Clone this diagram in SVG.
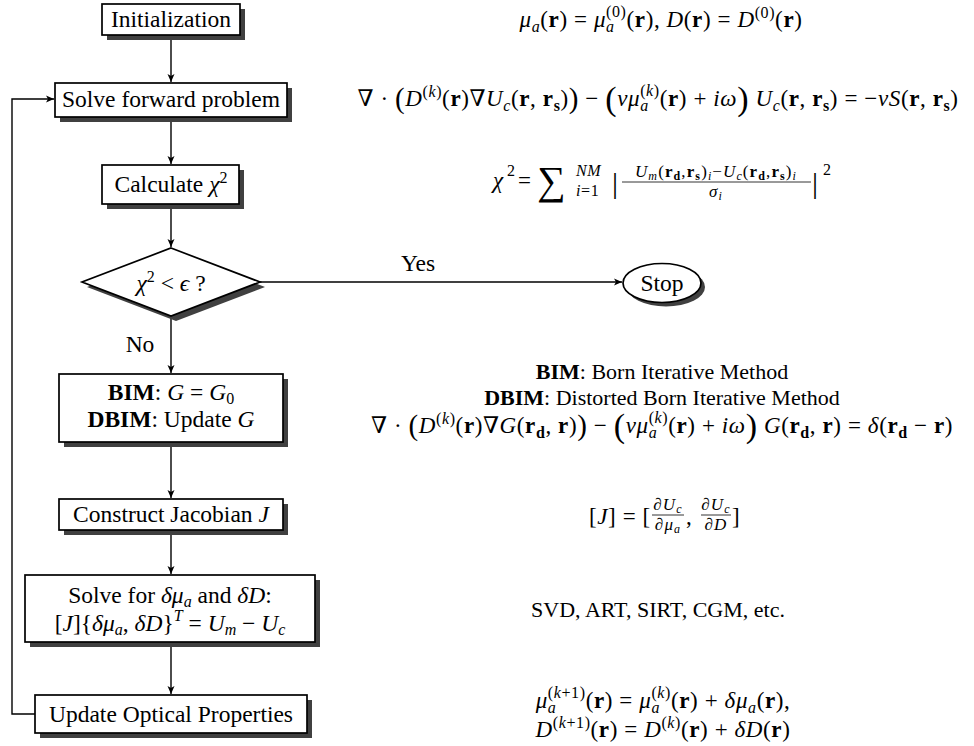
<svg xmlns="http://www.w3.org/2000/svg" width="974" height="746" viewBox="0 0 974 746">
<style>
.t{font-family:"Liberation Serif","DejaVu Serif",serif;font-size:23.5px;fill:#000}
.m{font-family:"Liberation Serif","DejaVu Serif",serif;font-size:22px;fill:#000}
.mm{font-family:"Liberation Serif","DejaVu Serif",serif;font-size:23px;letter-spacing:0.6px;fill:#000}
.i{font-style:italic}
.b{font-weight:bold}
.s{font-size:16px}
.f{font-family:"Liberation Serif","DejaVu Serif",serif;font-size:17px;letter-spacing:1.1px;fill:#000}
.ff{font-size:12px}
.p1{font-size:29px}
.p2{font-size:34px}
.box{fill:#fff;stroke:#000;stroke-width:1.7}
.sh{fill:#404040}
.c{fill:none;stroke:#000;stroke-width:1.4}
</style>
<defs>
<marker id="ah" markerWidth="10" markerHeight="8" refX="8" refY="4" orient="auto" markerUnits="userSpaceOnUse">
<path d="M0,0.5 L8,4 L0,7.5 L2,4 Z" fill="#000"/>
</marker>
</defs>
<rect width="974" height="746" fill="#fff"/>

<g id="connectors">
<line class="c" x1="171" y1="35" x2="171" y2="82" marker-end="url(#ah)"/>
<line class="c" x1="171" y1="117" x2="171" y2="164" marker-end="url(#ah)"/>
<line class="c" x1="171" y1="204" x2="171" y2="247" marker-end="url(#ah)"/>
<line class="c" x1="260" y1="282" x2="622" y2="282" marker-end="url(#ah)"/>
<line class="c" x1="171" y1="316" x2="171" y2="373" marker-end="url(#ah)"/>
<line class="c" x1="171" y1="442" x2="171" y2="498" marker-end="url(#ah)"/>
<line class="c" x1="171" y1="530" x2="171" y2="574" marker-end="url(#ah)"/>
<line class="c" x1="171" y1="642" x2="171" y2="694" marker-end="url(#ah)"/>
<polyline class="c" points="35,714 12,714 12,99 54,99" marker-end="url(#ah)"/>
<text class="t" x="418" y="271" text-anchor="middle">Yes</text>
<text class="t" x="140" y="352" text-anchor="middle">No</text>
</g>

<g id="n-init">
<rect class="sh" x="107" y="9" width="138" height="31"/>
<rect class="box" x="102" y="4" width="138" height="31"/>
<text class="t" x="171" y="27" text-anchor="middle">Initialization</text>
</g>

<g id="n-forward">
<rect class="sh" x="60" y="88" width="232" height="34"/>
<rect class="box" x="55" y="83" width="232" height="34"/>
<text class="t" x="171" y="107" text-anchor="middle">Solve forward problem</text>
</g>

<g id="n-chi">
<rect class="sh" x="107" y="170" width="137" height="39"/>
<rect class="box" x="102" y="165" width="137" height="39"/>
<text class="t" x="171" y="192" text-anchor="middle">Calculate <tspan class="i">χ</tspan><tspan class="s" dy="-9">2</tspan></text>
</g>

<g id="n-decision">
<polygon class="sh" points="176,253 265,287 176,321 87,287"/>
<polygon class="box" points="171,248 260,282 171,316 82,282"/>
<text class="t" x="171" y="291" text-anchor="middle"><tspan class="i">χ</tspan><tspan class="s" dy="-9">2</tspan><tspan dy="9"> &lt; </tspan><tspan class="i">ϵ</tspan> ?</text>
</g>

<g id="n-stop">
<ellipse class="sh" cx="666" cy="287" rx="39" ry="19.5"/>
<ellipse class="box" cx="662" cy="283" rx="39" ry="19.5"/>
<text class="t" x="662" y="291" text-anchor="middle">Stop</text>
</g>

<g id="n-bim">
<rect class="sh" x="64" y="379" width="224" height="68"/>
<rect class="box" x="59" y="374" width="224" height="68"/>
<text class="t" x="171" y="400" text-anchor="middle"><tspan class="b">BIM</tspan>: <tspan class="i">G</tspan> = <tspan class="i">G</tspan><tspan class="s" dy="4">0</tspan></text>
<text class="t" x="171" y="427" text-anchor="middle"><tspan class="b">DBIM</tspan>: Update <tspan class="i">G</tspan></text>
</g>

<g id="n-jacobian">
<rect class="sh" x="64" y="504" width="224" height="31"/>
<rect class="box" x="59" y="499" width="224" height="31"/>
<text class="t" x="171" y="522" text-anchor="middle">Construct Jacobian <tspan class="i">J</tspan></text>
</g>

<g id="n-solve">
<rect class="sh" x="30" y="580" width="290" height="67"/>
<rect class="box" x="25" y="575" width="290" height="67"/>
<text class="t" x="170" y="603" text-anchor="middle">Solve for <tspan class="i">δμ</tspan><tspan class="s i" dy="4">a</tspan><tspan dy="-4"> and </tspan><tspan class="i">δD</tspan>:</text>
<text class="t" x="170" y="631" text-anchor="middle">[<tspan class="i">J</tspan>]{<tspan class="i">δμ</tspan><tspan class="s i" dy="4">a</tspan><tspan dy="-4">, </tspan><tspan class="i">δD</tspan>}<tspan class="s i" dy="-10">T</tspan><tspan dy="10"> = </tspan><tspan class="i">U</tspan><tspan class="s i" dy="4">m</tspan><tspan dy="-4"> − </tspan><tspan class="i">U</tspan><tspan class="s i" dy="4">c</tspan></text>
</g>

<g id="n-update">
<rect class="sh" x="40" y="700" width="272" height="38"/>
<rect class="box" x="35" y="695" width="272" height="38"/>
<text class="t" x="171" y="722" text-anchor="middle">Update Optical Properties</text>
</g>

<g id="annotations">
<text class="mm" x="661" y="27" text-anchor="middle"><tspan class="i">μ</tspan><tspan class="s i" dy="5">a</tspan><tspan dy="-5">(</tspan><tspan class="b">r</tspan>) = <tspan class="i">μ</tspan><tspan class="s i" dy="5">a</tspan><tspan class="s" dx="-8.6" dy="-15">(0)</tspan><tspan dy="10">(</tspan><tspan class="b">r</tspan>), <tspan class="i">D</tspan>(<tspan class="b">r</tspan>) = <tspan class="i">D</tspan><tspan class="s" dy="-9">(0)</tspan><tspan dy="9">(</tspan><tspan class="b">r</tspan>)</text>

<text class="mm" x="658" y="106" text-anchor="middle">∇ · <tspan class="p1" dy="2">(</tspan><tspan class="i" dy="-2">D</tspan><tspan class="s" dy="-9">(<tspan class="i">k</tspan>)</tspan><tspan dy="9">(</tspan><tspan class="b">r</tspan>)∇<tspan class="i">U</tspan><tspan class="s i" dy="5">c</tspan><tspan dy="-5">(</tspan><tspan class="b">r</tspan>, <tspan class="b">r</tspan><tspan class="s b" dy="5">s</tspan><tspan dy="-5">)</tspan><tspan class="p1" dy="2">)</tspan><tspan dy="-2"> − </tspan><tspan class="p2" dy="4">(</tspan><tspan class="i" dy="-4">vμ</tspan><tspan class="s i" dy="5">a</tspan><tspan class="s" dx="-8.6" dy="-15">(<tspan class="i">k</tspan>)</tspan><tspan dy="10">(</tspan><tspan class="b">r</tspan>) + <tspan class="i">iω</tspan><tspan class="p2" dy="4">)</tspan><tspan dy="-4"> </tspan><tspan class="i">U</tspan><tspan class="s i" dy="5">c</tspan><tspan dy="-5">(</tspan><tspan class="b">r</tspan>, <tspan class="b">r</tspan><tspan class="s b" dy="5">s</tspan><tspan dy="-5">) = −</tspan><tspan class="i">vS</tspan>(<tspan class="b">r</tspan>, <tspan class="b">r</tspan><tspan class="s b" dy="5">s</tspan><tspan dy="-5">)</tspan></text>

<text class="mm i" x="493" y="188">χ</text>
<text class="mm s" x="507" y="176">2</text>
<text class="mm" x="518" y="188">=</text>
<text class="mm" x="537" y="194" style="font-size:40px">∑</text>
<text class="mm s i" x="576" y="176">NM</text>
<text class="mm s" x="576" y="196"><tspan class="i">i</tspan>=1</text>
<text class="mm" x="612" y="193" style="font-size:30px">|</text>
<text class="f" x="716" y="177" text-anchor="middle"><tspan class="i">U</tspan><tspan class="ff i" dy="3">m</tspan><tspan dy="-3">(</tspan><tspan class="b">r</tspan><tspan class="ff b" dy="3">d</tspan><tspan dy="-3">,</tspan><tspan class="b">r</tspan><tspan class="ff b" dy="3">s</tspan><tspan dy="-3">)</tspan><tspan class="ff i" dy="3">i</tspan><tspan dy="-3">−</tspan><tspan class="i">U</tspan><tspan class="ff i" dy="3">c</tspan><tspan dy="-3">(</tspan><tspan class="b">r</tspan><tspan class="ff b" dy="3">d</tspan><tspan dy="-3">,</tspan><tspan class="b">r</tspan><tspan class="ff b" dy="3">s</tspan><tspan dy="-3">)</tspan><tspan class="ff i" dy="3">i</tspan></text>
<line x1="622" y1="182" x2="811" y2="182" stroke="#000" stroke-width="0.8"/>
<text class="f" x="716" y="197" text-anchor="middle"><tspan class="i">σ</tspan><tspan class="ff i" dy="3">i</tspan></text>
<text class="mm" x="812" y="193" style="font-size:30px">|</text>
<text class="mm s" x="823" y="175">2</text>

<text class="m" x="662" y="379" text-anchor="middle"><tspan class="b">BIM</tspan>: Born Iterative Method</text>
<text class="m" x="662" y="405" text-anchor="middle"><tspan class="b">DBIM</tspan>: Distorted Born Iterative Method</text>
<text class="mm" x="662" y="433" text-anchor="middle">∇ · <tspan class="p1" dy="2">(</tspan><tspan class="i" dy="-2">D</tspan><tspan class="s" dy="-9">(<tspan class="i">k</tspan>)</tspan><tspan dy="9">(</tspan><tspan class="b">r</tspan>)∇<tspan class="i">G</tspan>(<tspan class="b">r</tspan><tspan class="s b" dy="5">d</tspan><tspan dy="-5">, </tspan><tspan class="b">r</tspan>)<tspan class="p1" dy="2">)</tspan><tspan dy="-2"> − </tspan><tspan class="p2" dy="4">(</tspan><tspan class="i" dy="-4">vμ</tspan><tspan class="s i" dy="5">a</tspan><tspan class="s" dx="-8.6" dy="-15">(<tspan class="i">k</tspan>)</tspan><tspan dy="10">(</tspan><tspan class="b">r</tspan>) + <tspan class="i">iω</tspan><tspan class="p2" dy="4">)</tspan><tspan dy="-4"> </tspan><tspan class="i">G</tspan>(<tspan class="b">r</tspan><tspan class="s b" dy="5">d</tspan><tspan dy="-5">, </tspan><tspan class="b">r</tspan>) = <tspan class="i">δ</tspan>(<tspan class="b">r</tspan><tspan class="s b" dy="5">d</tspan><tspan dy="-5"> − </tspan><tspan class="b">r</tspan>)</text>

<text class="mm" x="589" y="524">[<tspan class="i">J</tspan>] = [</text>
<text class="f" x="668" y="510" text-anchor="middle">∂<tspan class="i">U</tspan><tspan class="ff i" dy="3">c</tspan></text>
<line x1="652" y1="515" x2="684" y2="515" stroke="#000" stroke-width="0.8"/>
<text class="f" x="668" y="530" text-anchor="middle">∂<tspan class="i">μ</tspan><tspan class="ff i" dy="3">a</tspan></text>
<text class="mm" x="686" y="524">,</text>
<text class="f" x="716" y="510" text-anchor="middle">∂<tspan class="i">U</tspan><tspan class="ff i" dy="3">c</tspan></text>
<line x1="701" y1="515" x2="731" y2="515" stroke="#000" stroke-width="0.8"/>
<text class="f" x="716" y="530" text-anchor="middle">∂<tspan class="i">D</tspan></text>
<text class="mm" x="732" y="524">]</text>

<text class="m" x="658" y="617" text-anchor="middle">SVD, ART, SIRT, CGM, etc.</text>

<text class="mm" x="663" y="708" text-anchor="middle"><tspan class="i">μ</tspan><tspan class="s i" dy="5">a</tspan><tspan class="s" dx="-8.6" dy="-15">(<tspan class="i">k</tspan>+1)</tspan><tspan dy="10">(</tspan><tspan class="b">r</tspan>) = <tspan class="i">μ</tspan><tspan class="s i" dy="5">a</tspan><tspan class="s" dx="-8.6" dy="-15">(<tspan class="i">k</tspan>)</tspan><tspan dy="10">(</tspan><tspan class="b">r</tspan>) + <tspan class="i">δμ</tspan><tspan class="s i" dy="5">a</tspan><tspan dy="-5">(</tspan><tspan class="b">r</tspan>),</text>
<text class="mm" x="663" y="737" text-anchor="middle"><tspan class="i">D</tspan><tspan class="s" dy="-9">(<tspan class="i">k</tspan>+1)</tspan><tspan dy="9">(</tspan><tspan class="b">r</tspan>) = <tspan class="i">D</tspan><tspan class="s" dy="-9">(<tspan class="i">k</tspan>)</tspan><tspan dy="9">(</tspan><tspan class="b">r</tspan>) + <tspan class="i">δD</tspan>(<tspan class="b">r</tspan>)</text>
</g>
</svg>
